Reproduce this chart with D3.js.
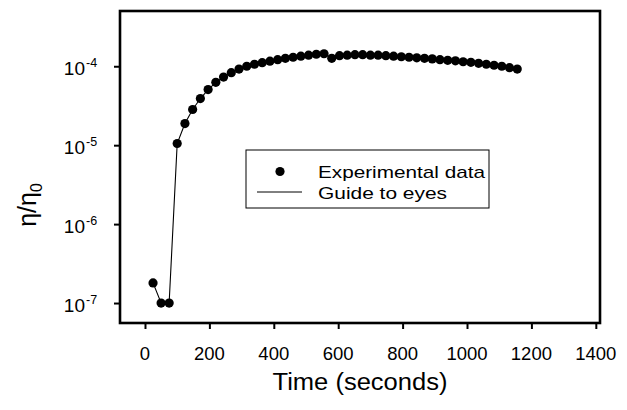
<!DOCTYPE html>
<html>
<head>
<meta charset="utf-8">
<script src="https://cdn.jsdelivr.net/npm/d3@7"></script>
<style>
  html, body { margin: 0; padding: 0; background: #fff; }
  svg { display: block; font-family: "Liberation Sans", Arial, sans-serif; }
</style>
</head>
<body>
<svg id="chart" width="627" height="410"></svg>
<script>
// ---- Data ----
const times = [25, 50, 75, 100, 124, 148, 172, 196, 220, 244, 268, 292, 316, 340, 364, 388, 412, 436, 460, 484, 508, 532, 556, 580, 604, 628, 652, 676, 700, 724, 748, 772, 796, 820, 844, 868, 892, 916, 940, 964, 988, 1012, 1036, 1060, 1084, 1108, 1132, 1156];
const viscRatio = [1.8e-7, 1.0e-7, 1.0e-7, 1.05e-5, 1.88e-5, 2.83e-5, 3.9e-5, 5.07e-5, 6.25e-5, 7.3e-5, 8.3e-5, 9.2e-5, 1.0e-4, 1.06e-4, 1.11e-4, 1.16e-4, 1.21e-4, 1.26e-4, 1.30e-4, 1.34e-4, 1.38e-4, 1.42e-4, 1.44e-4, 1.26e-4, 1.36e-4, 1.38e-4, 1.40e-4, 1.40e-4, 1.38e-4, 1.38e-4, 1.36e-4, 1.34e-4, 1.32e-4, 1.30e-4, 1.28e-4, 1.26e-4, 1.24e-4, 1.21e-4, 1.19e-4, 1.17e-4, 1.14e-4, 1.12e-4, 1.09e-4, 1.06e-4, 1.03e-4, 1.0e-4, 9.6e-5, 9.2e-5];
const xTicks = [0, 200, 400, 600, 800, 1000, 1200, 1400];
const yTickExps = [-4, -5, -6, -7];
const legendLabels = ["Experimental data", "Guide to eyes"];

// ---- Layout ----
const svg = d3.select("#chart");
const L = 120, R = 600, T = 11, B = 323;
const x = d3.scaleLinear().domain([-77.6, 1413]).range([L, R]);
const y = d3.scaleLog().domain([Math.pow(10, -7.253), Math.pow(10, -3.30)]).range([B, T]);

const data = times.map((t, i) => ({ t, v: viscRatio[i] }));

// line
const line = d3.line().x(d => x(d.t)).y(d => y(d.v));
svg.append("path").datum(data)
  .attr("d", line).attr("fill", "none").attr("stroke", "#000").attr("stroke-width", 1.1);

// points
svg.append("g").selectAll("circle").data(data).enter().append("circle")
  .attr("cx", d => x(d.t)).attr("cy", d => y(d.v)).attr("r", 4.6).attr("fill", "#000");

// x axis
const xAxis = d3.axisBottom(x).tickValues(xTicks).tickSize(6).tickPadding(0).tickFormat("");
const gx = svg.append("g").attr("transform", `translate(0,${B})`).call(xAxis);
gx.select(".domain").remove();
gx.selectAll(".tick line").attr("stroke-width", 2);
svg.append("g").selectAll("text").data(xTicks).enter().append("text")
  .attr("x", d => x(d)).attr("y", 360).attr("text-anchor", "middle")
  .attr("font-size", 18.5).attr("fill", "#000").text(d => d);

// y axis
const yTickVals = yTickExps.map(e => Math.pow(10, e));
const yAxis = d3.axisLeft(y).tickValues(yTickVals).tickSize(6).tickFormat("");
const gy = svg.append("g").attr("transform", `translate(${L},0)`).call(yAxis);
gy.select(".domain").remove();
gy.selectAll(".tick line").attr("stroke-width", 2);
const yl = svg.append("g").selectAll("text").data(yTickExps).enter().append("text")
  .attr("x", 85).attr("y", d => y(Math.pow(10, d)) + 8.5)
  .attr("text-anchor", "end").attr("font-size", 19).attr("fill", "#000").text("10");
svg.append("g").selectAll("text").data(yTickExps).enter().append("text")
  .attr("x", 86).attr("y", d => y(Math.pow(10, d)) + 1)
  .attr("font-size", 12.5).attr("fill", "#000").text(d => "-" + Math.abs(d));

// frame
svg.append("rect").attr("x", L).attr("y", T).attr("width", R - L).attr("height", B - T)
  .attr("fill", "none").attr("stroke", "#000").attr("stroke-width", 2.6);

// axis titles
svg.append("text").attr("x", (L + R) / 2).attr("y", 390).attr("text-anchor", "middle")
  .attr("font-size", 23).attr("fill", "#000")
  .attr("textLength", 175).attr("lengthAdjust", "spacingAndGlyphs")
  .text("Time (seconds)");
const ylab = svg.append("text").attr("transform", "translate(36,205) rotate(-90)")
  .attr("text-anchor", "middle").attr("font-size", 25).attr("fill", "#000");
ylab.append("tspan").text("η/η");
ylab.append("tspan").attr("font-size", 16).attr("dy", 6).text("0");

// legend
const lg = svg.append("g");
lg.append("rect").attr("x", 246).attr("y", 150).attr("width", 243).attr("height", 58)
  .attr("fill", "#fff").attr("stroke", "#000").attr("stroke-width", 1);
lg.append("circle").attr("cx", 280).attr("cy", 171.5).attr("r", 4.6).attr("fill", "#000");
lg.append("line").attr("x1", 257).attr("x2", 302).attr("y1", 192).attr("y2", 192)
  .attr("stroke", "#000").attr("stroke-width", 1);
lg.append("text").attr("x", 318).attr("y", 178).attr("font-size", 17).attr("fill", "#000")
  .attr("textLength", 167).attr("lengthAdjust", "spacingAndGlyphs").text(legendLabels[0]);
lg.append("text").attr("x", 318).attr("y", 199).attr("font-size", 17).attr("fill", "#000")
  .attr("textLength", 129).attr("lengthAdjust", "spacingAndGlyphs").text(legendLabels[1]);
</script>
</body>
</html>
